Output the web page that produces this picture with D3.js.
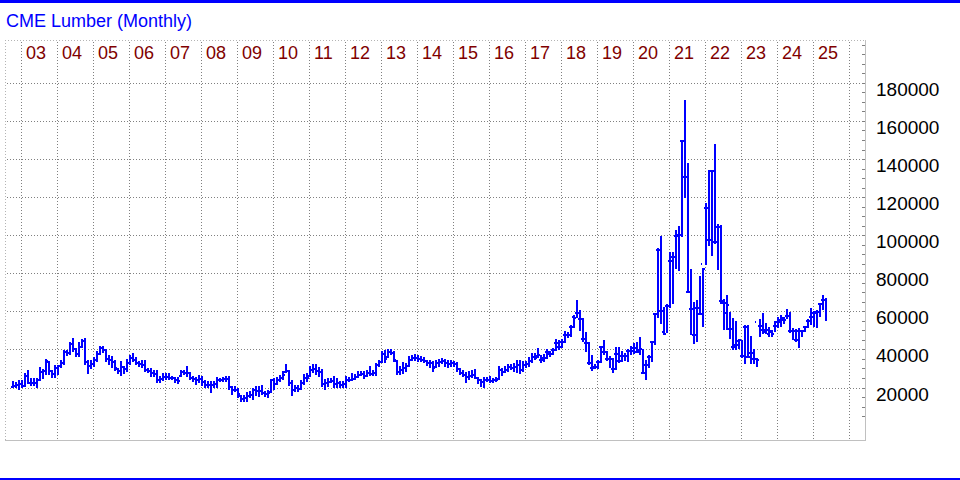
<!DOCTYPE html>
<html><head><meta charset="utf-8">
<script src="https://cdn.jsdelivr.net/npm/d3@7"></script>
<style>body{margin:0;background:#fff;} svg{display:block;}</style>
</head><body>
<script>
// Monthly OHLC, first bar = Oct 2002, last bar = May 2025
const title = "CME Lumber (Monthly)";
const firstYear = 2002, firstMonth = 10;
const yearLabels = ["03","04","05","06","07","08","09","10","11","12","13","14","15","16","17","18","19","20","21","22","23","24","25"];
const yTicks = [20000,40000,60000,80000,100000,120000,140000,160000,180000];

const opens = [21200,21800,22300,22800,21800,27000,23300,23000,23000,25000,29000,29300,34000,29500,28000,31000,32000,33800,39500,39000,
43800,41000,38200,42300,45200,34000,32000,33000,35300,38500,41500,40500,36000,35500,34000,30500,29300,31400,30500,33500,
36500,35500,33800,33000,32500,30000,29500,28500,28000,24500,25500,26500,26500,26000,25600,24500,27000,29000,28500,28300,
26000,25500,24500,25500,23500,22300,22000,22300,22500,24800,24800,25300,25500,20900,19500,19500,16500,14500,15500,16500,
16800,19500,19000,19000,18000,17500,18300,24500,22600,24500,26000,28800,29300,23000,19500,20500,20000,23000,26000,27000,
30000,30500,29500,29000,22500,23000,23500,24000,22500,23000,22000,22500,24500,24700,25500,26500,27500,27800,27000,28300,
28000,28500,32800,34000,38500,36700,39500,39000,34900,29000,30000,31000,32300,35500,36500,36500,36000,35500,34500,33500,
33500,31400,33500,34000,34500,33500,33000,33500,33000,30500,28500,27500,26500,27000,27500,25800,24500,23500,24800,24500,
24000,24500,25300,30000,29000,30000,31500,31000,31500,32500,30000,32500,33000,34500,36700,37500,35500,36500,39300,38500,
40500,44000,42300,44600,48500,48500,52500,58000,59800,56800,46300,44000,33500,31100,31800,34000,42000,39300,35800,35800,
30500,38400,34600,37500,37500,40200,40200,41600,39300,40500,28300,32800,37000,44600,59300,93000,61000,50200,63700,87300,
89100,100500,101000,150500,131200,71200,61900,48400,62400,59300,85600,115100,98200,134400,97000,104900,66000,65000,60000,51500,
42000,43000,45300,37500,52500,37000,38800,35800,55000,53000,51100,50200,49000,50700,53000,55000,56500,57400,58500,50400,
50700,45800,50400,50400,52500,55800,57900,59800,60500,64400,66500];

const highs = [23500,23000,24000,24400,27900,29300,25300,25300,25300,31000,30000,35300,34000,29700,32300,32300,34600,40200,39800,44000,
46300,41100,44000,45800,46300,34600,34600,36300,39300,42300,42300,40500,37500,37000,34600,30500,34000,31400,35300,37500,
38400,36300,34000,34900,34900,30500,30500,29700,29300,26500,27900,27900,27900,26500,25800,25800,29700,29700,31400,28300,
26200,25800,27000,26200,24400,23500,23500,23500,25800,25300,25800,26200,26200,20900,20900,20000,16500,16500,17700,18300,
20000,20900,20900,21800,18300,18800,24700,25300,25800,27000,28800,32800,29300,24000,21800,21800,24400,27600,27900,31400,
32800,32800,31100,30000,24700,25300,25300,26500,25300,23500,23900,26100,25800,27900,27500,28800,28800,28800,29700,31800,
29700,33200,34900,39300,39800,40500,40500,39300,34900,31400,33500,33200,36700,37500,38100,37500,37000,36300,34600,34600,
34000,34600,35300,35800,35300,34600,34600,34000,33500,30500,29700,28300,28800,29700,30000,25800,24700,25800,25800,26200,
25300,25800,31800,30500,31400,32800,32800,33200,34600,34900,34000,34000,36300,38400,38400,41100,37500,38100,40500,39300,
41100,45800,45400,45800,49800,49300,53300,58100,66000,60900,56800,49300,44000,37500,32800,34600,42300,45100,39300,36700,
35800,41600,41600,39300,38400,40500,42300,43700,44000,46800,40500,34600,37500,44600,59600,93500,100000,62800,64200,91700,
91200,103100,104900,150500,171500,138200,82400,65400,66300,78900,83000,117200,134400,134400,147900,106300,105800,66800,68600,60000,
56800,55200,46000,45300,53000,53000,47200,40500,35800,56300,59500,54200,52100,50700,55100,57400,58600,57400,61600,59800,
51600,51100,51600,50700,52800,56000,62100,60400,61200,64700,69100,67400];

const lows = [20900,21200,20000,21200,21800,23000,22300,22300,20900,24700,25800,27900,27900,26100,26500,27900,31400,33200,38100,38400,
39800,37500,37500,42300,33200,28300,31000,32300,34900,38400,39300,34600,33200,31400,30000,28300,27600,28300,29700,33200,
34900,33200,32300,31400,29700,28800,27000,27000,23500,23500,24700,25300,25300,25100,23500,23000,27000,27900,27000,25300,
24400,22600,23500,22300,21200,20900,18300,21200,20900,24000,24400,24400,20000,17400,18800,16000,13500,13500,13900,16000,
14700,17000,16500,17400,16500,16000,18300,20000,22600,24400,25300,28800,22300,17000,19100,19100,20000,22600,24400,27000,
28800,27900,27000,21800,20000,21800,23500,21200,20900,20900,21200,20900,24000,24700,25300,26100,27500,25800,27000,27500,
27500,27500,32300,34000,34000,36700,38400,34600,27900,27900,28300,29700,32300,35300,35300,34900,34900,34000,32800,31800,
29700,31400,32300,33500,32300,31800,32300,32300,29700,27900,27000,23500,25300,26500,25800,23000,21800,21200,24000,23500,
23500,24400,25300,27600,28800,29300,30500,29700,28800,28300,29700,31400,32300,34000,35800,36700,34000,34900,36300,37500,
38400,40500,41100,42300,44600,47200,48100,52500,58000,51100,45100,39800,33200,30000,31100,31100,34000,38400,35300,31800,
28800,30500,34000,34600,35300,34900,38400,38800,39300,38400,28300,25300,31800,34600,43500,57900,54900,48800,50200,63100,
65400,83800,82400,100500,120700,71200,48800,44400,45300,59300,53100,85600,95800,90500,96500,83000,65000,51600,51600,47000,
41000,41200,41500,36700,33700,37000,33500,33500,32300,47600,49300,49300,48100,48100,50700,52500,53300,54600,57400,49800,
46300,45400,41900,47600,50400,52500,54200,53300,52500,58600,62100,56000];

const closes = [21800,22300,22800,21600,27000,23300,23000,23000,25000,29000,29300,34500,29500,28000,31000,32000,33800,39500,39000,43800,
41000,38200,42000,45200,34000,32000,33000,35300,38500,41500,40500,36000,35500,34000,31000,29300,31800,30500,33500,36500,
35500,33800,33000,32500,30000,29500,28500,28000,24500,25500,26500,26500,26000,25600,24500,24000,29000,28500,28500,26000,
25500,24500,25500,23500,22300,22000,22300,22500,24800,24800,25300,25500,21000,19500,19500,17500,14500,15500,16500,16800,
19500,19000,19000,18000,17500,18000,24500,22500,24500,26000,27500,29500,23000,19500,20500,20000,23000,26000,26000,30000,
30500,29500,29000,22500,23000,23500,24000,22500,23000,22000,22500,24500,24500,25500,26500,27500,27800,27000,28300,28000,
28500,32800,34000,38500,36000,39500,39000,35500,29000,30000,31000,32000,35500,36500,36500,36000,35500,34500,33500,33500,
31000,33500,34000,34500,33500,33000,33500,33000,30500,28500,27500,26500,27000,27500,26000,24500,23500,24800,24500,24000,
24500,25000,30000,29000,30000,31500,31000,31500,32500,30000,32500,33000,34500,37000,36500,38000,35500,36500,39500,38500,
40500,44000,42000,44500,48500,48500,52500,57500,59800,56800,46300,44000,33500,31100,31800,34000,42000,39300,35800,35800,
30500,38400,34600,37500,37500,40200,40200,41600,39300,41100,28300,32800,37000,44600,59300,93000,61000,49100,63700,87300,
89100,100500,101000,150500,131200,71200,61900,48400,62400,59300,83000,115100,98200,134400,97000,104900,66000,65000,64000,51500,
42000,43000,45500,37500,52500,37000,38800,35800,35000,53000,51100,51100,50200,49000,53000,55000,56500,56000,58500,50400,
50700,45800,50400,50400,52500,55800,57900,59800,60500,64400,66500,57800];

const W = 960, H = 480;
const frame = {left: 5, right: 865, top: 40, bottom: 440};
const font = "'Liberation Sans', Arial, sans-serif";

const svg = d3.select("body").append("svg").attr("width", W).attr("height", H);
svg.append("rect").attr("width", W).attr("height", H).attr("fill", "#fff");

const n = closes.length;
const x = d3.scaleLinear().domain([0, n - 1]).range([12.5, 12.5 + 3 * (n - 1)]);
const y = d3.scaleLinear().domain([0, 200000]).range([426.1, 45.3]);
const snap = v => Math.floor(v) + 0.5;

// year start indices (January of each year)
const yearIdx = d3.range(firstYear + 1, firstYear + 1 + yearLabels.length + 1)
  .map(yr => (yr - firstYear) * 12 - (firstMonth - 1));

// blue rules top and bottom
svg.append("rect").attr("x", 0).attr("y", 0).attr("width", W).attr("height", 3).attr("fill", "#0000ff");
svg.append("rect").attr("x", 0).attr("y", 478).attr("width", W).attr("height", 2).attr("fill", "#0000ff");

// title
svg.append("text").attr("x", 6).attr("y", 27.3).attr("font-family", font).attr("font-size", 18)
  .attr("fill", "#0000ff").text(title);

const g = svg.append("g").attr("shape-rendering", "crispEdges");

// dotted frame top/left
g.append("line").attr("x1", frame.left).attr("x2", frame.right).attr("y1", frame.top + 0.5).attr("y2", frame.top + 0.5)
  .attr("stroke", "#b4b4b4").attr("stroke-dasharray", "1,2");
g.append("line").attr("x1", frame.left + 0.5).attr("x2", frame.left + 0.5).attr("y1", frame.top).attr("y2", frame.bottom)
  .attr("stroke", "#b4b4b4").attr("stroke-dasharray", "1,2");

// vertical year gridlines
g.selectAll("line.vg").data(yearIdx).join("line").attr("class", "vg")
  .attr("x1", d => snap(x(d))).attr("x2", d => snap(x(d)))
  .attr("y1", frame.top + 2).attr("y2", frame.bottom)
  .attr("stroke", "#808080").attr("stroke-dasharray", "1,2");

// horizontal value gridlines
g.selectAll("line.hg").data(yTicks).join("line").attr("class", "hg")
  .attr("x1", frame.left + 2).attr("x2", frame.right)
  .attr("y1", d => snap(y(d))).attr("y2", d => snap(y(d)))
  .attr("stroke", "#808080").attr("stroke-dasharray", "1,2");

// solid frame right/bottom
g.append("line").attr("x1", frame.right + 0.5).attr("x2", frame.right + 0.5).attr("y1", frame.top).attr("y2", frame.bottom + 1)
  .attr("stroke", "#c0c0c0");
g.append("line").attr("x1", frame.left).attr("x2", frame.right + 1).attr("y1", frame.bottom + 0.5).attr("y2", frame.bottom + 0.5)
  .attr("stroke", "#c0c0c0");

// minor ticks on right axis every 5000
const minor = d3.range(5000, 200001, 5000);
g.selectAll("line.mt").data(minor).join("line").attr("class", "mt")
  .attr("x1", frame.right - 3).attr("x2", frame.right)
  .attr("y1", d => snap(y(d))).attr("y2", d => snap(y(d)))
  .attr("stroke", "#808080");

// year labels
svg.selectAll("text.yl").data(yearLabels).join("text").attr("class", "yl")
  .attr("x", (d, i) => snap(x(yearIdx[i])) + 4.5).attr("y", 59.3)
  .attr("font-family", font).attr("font-size", 18).attr("fill", "#800000").text(d => d);

// value labels
svg.selectAll("text.vl").data(yTicks).join("text").attr("class", "vl")
  .attr("x", 876).attr("y", d => snap(y(d)) + 12.3)
  .attr("font-family", font).attr("font-size", 19).attr("fill", "#000").text(d => d);

// OHLC bars: 2px pen, vertical on columns c,c+1, open tick column c-1, close tick column c+2
const bars = d3.range(n).map(i => {
  const c = Math.round(x(i) - 0.5);
  const yh = Math.round(y(highs[i])), yl = Math.round(y(lows[i]));
  const yo = Math.round(y(opens[i])) + 1, yc = Math.round(y(closes[i])) + 1;
  return `M${c + 1},${yh}V${yl + 2}M${c - 1},${yo}H${c}M${c + 2},${yc}H${c + 3}`;
});
g.append("path").attr("d", bars.join("")).attr("fill", "none").attr("stroke", "#0000ff").attr("stroke-width", 2);
</script>
</body></html>
